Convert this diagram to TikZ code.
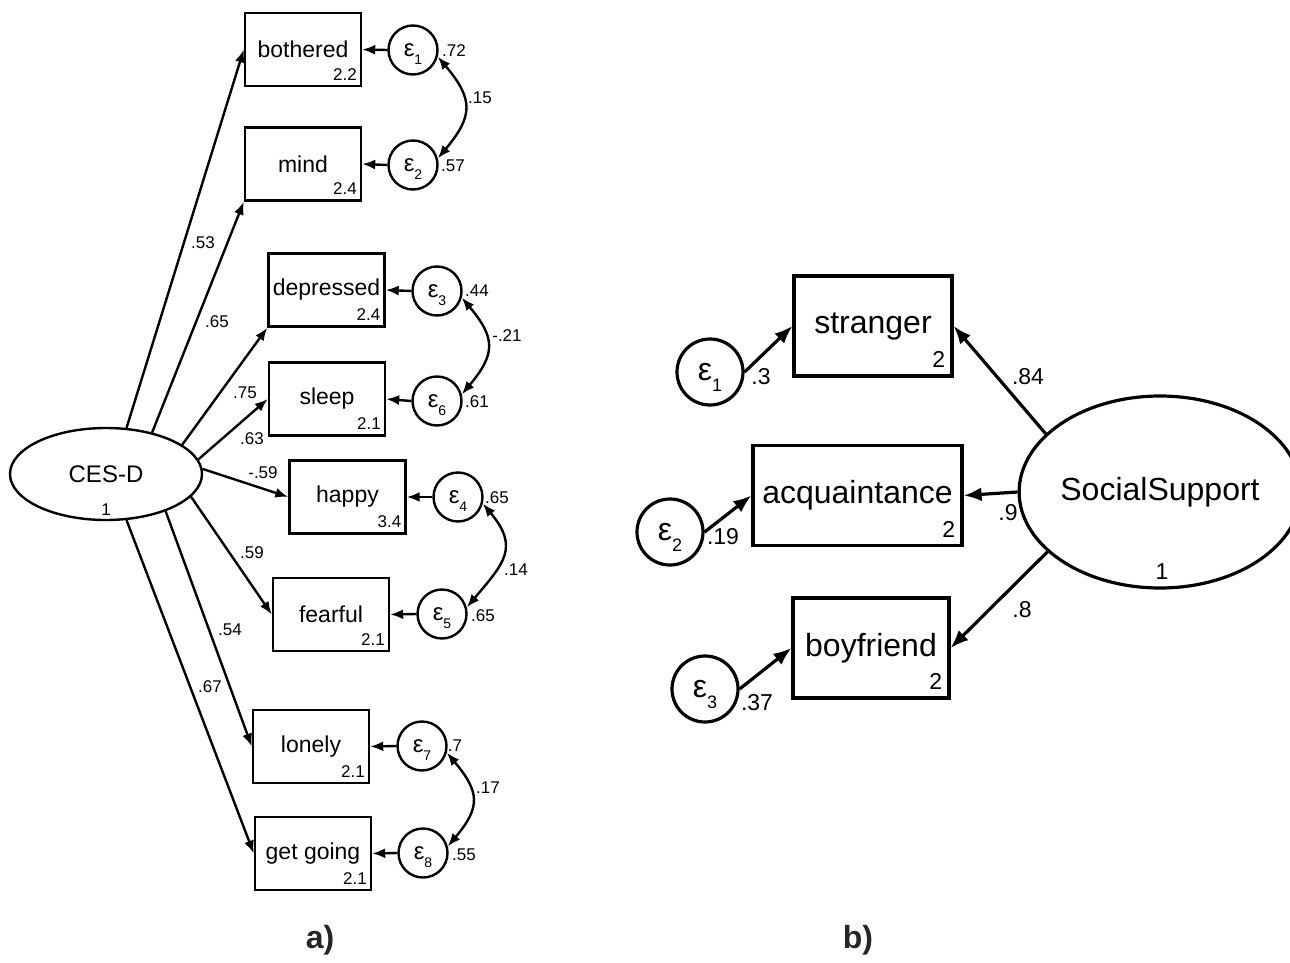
\documentclass[tikz,border=0pt]{standalone}
\usepackage{fontspec}
\setmainfont{Liberation Sans}
\usetikzlibrary{arrows.meta,shapes.geometric}
\newcommand\epsA[1]{ε\raisebox{-4pt}[0pt][0pt]{\fontsize{7}{8}\selectfont #1}}
\newcommand\epsB[1]{ε\raisebox{-5.5pt}[0pt][0pt]{\fontsize{9}{10}\selectfont #1}}
\begin{document}
\begin{tikzpicture}[x=0.5pt,y=0.5pt,
  obsA/.style={draw, line width=1.2pt, minimum width=58pt, minimum height=36.5pt, inner sep=0pt, font=\fontsize{11.5}{13}\selectfont},
  errA/.style={draw, circle, line width=1.2pt, minimum size=24.5pt, inner sep=0pt, font=\fontsize{12}{13}\selectfont},
  latA/.style={draw, ellipse, line width=1.2pt, inner sep=0pt, font=\fontsize{12}{14}\selectfont},
  numA/.style={font=\fontsize{8.5}{10}\selectfont, inner sep=0pt},
  arrA/.style={line width=1.2pt, -{Latex[length=6.5pt,width=5pt]}},
  covA/.style={line width=1.2pt, {Latex[length=6.5pt,width=5pt]}-{Latex[length=6.5pt,width=5pt]}, looseness=1.4},
  obsB/.style={draw, line width=1.6pt, minimum height=50pt, inner sep=0pt, font=\fontsize{16}{18}\selectfont},
  errB/.style={draw, circle, line width=1.6pt, minimum size=33pt, inner sep=0pt, font=\fontsize{16}{17}\selectfont},
  latB/.style={draw, ellipse, line width=1.6pt, inner sep=0pt, font=\fontsize{16}{18}\selectfont},
  numB/.style={font=\fontsize{11.5}{13}\selectfont, inner sep=0pt},
  arrB/.style={line width=1.6pt, -{Latex[length=9pt,width=7pt]}},
  panel/.style={font=\fontsize{16}{18}\selectfont\bfseries, text=black!85}
]
\useasboundingbox (0,0) rectangle (1290,-963);

% ---------------- panel a ----------------
\node[latA, minimum width=96pt, minimum height=46pt] (ces) at (106,-474) {CES-D};
\node[numA, anchor=base] (ces1) at (106,-515) {1};

\node[obsA] (bothered) at (303,-49.5) {bothered};
\node[obsA] (mind) at (303,-164) {mind};
\node[obsA] (depressed) at (326.5,-290) {depressed};
\node[obsA] (sleep) at (327,-399) {sleep};
\node[obsA] (happy) at (347.5,-497) {happy};
\node[obsA] (fearful) at (331,-614.5) {fearful};
\node[obsA] (lonely) at (311,-746.5) {lonely};
\node[obsA] (getgoing) at (313,-853.5) {get going};

\node[numA, anchor=base east] (mbothered) at ([shift={(-5,7)}]bothered.south east) {2.2};
\node[numA, anchor=base east] (mmind) at ([shift={(-5,7)}]mind.south east) {2.4};
\node[numA, anchor=base east] (mdepressed) at ([shift={(-5,7)}]depressed.south east) {2.4};
\node[numA, anchor=base east] (msleep) at ([shift={(-5,7)}]sleep.south east) {2.1};
\node[numA, anchor=base east] (mhappy) at ([shift={(-5,7)}]happy.south east) {3.4};
\node[numA, anchor=base east] (mfearful) at ([shift={(-5,7)}]fearful.south east) {2.1};
\node[numA, anchor=base east] (mlonely) at ([shift={(-5,7)}]lonely.south east) {2.1};
\node[numA, anchor=base east] (mgetgoing) at ([shift={(-5,7)}]getgoing.south east) {2.1};

\node[errA] (e1) at (413,-50) {\epsA{1}};
\node[errA] (e2) at (413,-165) {\epsA{2}};
\node[errA] (e3) at (437,-291) {\epsA{3}};
\node[errA] (e6) at (437,-401) {\epsA{6}};
\node[errA] (e4) at (458,-497) {\epsA{4}};
\node[errA] (e5) at (442,-614) {\epsA{5}};
\node[errA] (e7) at (422,-746) {\epsA{7}};
\node[errA] (e8) at (423,-853) {\epsA{8}};

% loadings
\draw[arrA] (ces.66) -- (bothered.west);
\draw[arrA] (ces.42) -- (mind.south west);
\draw[arrA] (ces.21) -- (depressed.south west);
\draw[arrA] (ces.9) -- (sleep.west);
\draw[arrA] (ces.3.7) -- (happy.west);
\draw[arrA] (ces.-15) -- (fearful.west);
\draw[arrA] (ces.-32) -- (lonely.west);
\draw[arrA] (ces.-66) -- (getgoing.west);

\node[numA] (l1) at (203,-243) {.53};
\node[numA] (l2) at (217,-322) {.65};
\node[numA] (l3) at (245,-393) {.75};
\node[numA] (l4) at (252,-439) {.63};
\node[numA] (l5) at (263,-473) {-.59};
\node[numA] (l6) at (252,-553) {.59};
\node[numA] (l7) at (230,-630) {.54};
\node[numA] (l8) at (210,-687) {.67};

% errors to indicators
\draw[arrA] (e1.west) -- (bothered.east);
\draw[arrA] (e2.west) -- (mind.east);
\draw[arrA] (e3.west) -- (depressed.east);
\draw[arrA] (e6.west) -- (sleep.east);
\draw[arrA] (e4.west) -- (happy.east);
\draw[arrA] (e5.west) -- (fearful.east);
\draw[arrA] (e7.west) -- (lonely.east);
\draw[arrA] (e8.west) -- (getgoing.east);

% covariances
\draw[covA] (e1.-15) to[out=-50,in=50] (e2.15);
\draw[covA] (e3.-15) to[out=-50,in=50] (e6.15);
\draw[covA] (e4.-15) to[out=-50,in=50] (e5.15);
\draw[covA] (e7.-15) to[out=-50,in=50] (e8.15);

\node[numA] (v1) at (454,-51) {.72};
\node[numA] (v2) at (453,-166) {.57};
\node[numA] (c12) at (480,-98) {.15};
\node[numA] (v3) at (477,-291) {.44};
\node[numA] (v6) at (477,-402) {.61};
\node[numA] (c36) at (507,-336) {-.21};
\node[numA] (v4) at (497,-498) {.65};
\node[numA] (v5) at (483,-616) {.65};
\node[numA] (c45) at (516,-570) {.14};
\node[numA] (v7) at (455,-746) {.7};
\node[numA] (v8) at (464,-855) {.55};
\node[numA] (c78) at (488,-788) {.17};

\node[panel] (pa) at (320,-940) {a)};

% ---------------- panel b ----------------
\node[latB, minimum width=127pt, minimum height=96pt] (ss) at (1160,-492) {SocialSupport};
\node[numB, anchor=base] (ss1) at (1162,-579) {1};

\node[obsB, minimum width=79pt] (stranger) at (873,-326) {stranger};
\node[obsB, minimum width=104.5pt] (acq) at (857.5,-495.5) {acquaintance};
\node[obsB, minimum width=78pt] (boyfriend) at (871,-648) {boyfriend};

\node[numB, anchor=base east] (mstr) at ([shift={(-8,10)}]stranger.south east) {2};
\node[numB, anchor=base east] (macq) at ([shift={(-8,10)}]acq.south east) {2};
\node[numB, anchor=base east] (mboy) at ([shift={(-8,10)}]boyfriend.south east) {2};

\node[errB] (f1) at (710,-372) {\epsB{1}};
\node[errB] (f2) at (670,-532) {\epsB{2}};
\node[errB] (f3) at (705,-689) {\epsB{3}};

\draw[arrB] (ss.153) -- (stranger.east);
\draw[arrB] (ss.west) -- (acq.east);
\draw[arrB] (ss.208) -- (boyfriend.east);
\draw[arrB] (f1.east) -- (stranger.west);
\draw[arrB] (f2.east) -- (acq.west);
\draw[arrB] (f3.east) -- (boyfriend.west);

\node[numB] (k1) at (1028,-377) {.84};
\node[numB] (k2) at (1008,-513) {.9};
\node[numB] (k3) at (1022,-610) {.8};
\node[numB] (w1) at (761,-377) {.3};
\node[numB] (w2) at (723,-537) {.19};
\node[numB] (w3) at (757,-703) {.37};

\node[panel] (pb) at (858,-940) {b)};
\end{tikzpicture}
\end{document}
